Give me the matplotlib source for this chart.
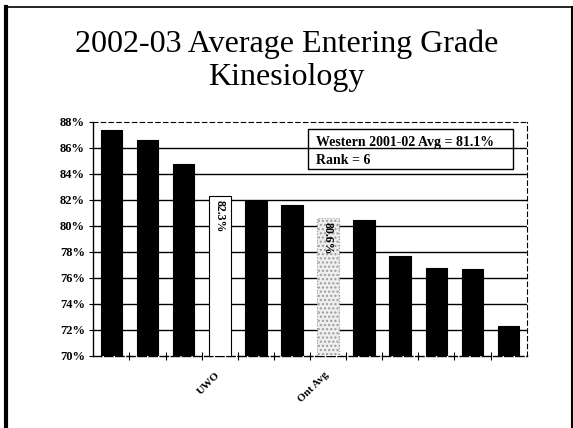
import numpy as np
import matplotlib.pyplot as plt
from matplotlib.patches import Rectangle

# data
labels = ['', '', '', 'UWO', '', '', 'Ont Avg', '', '', '', '', '']
grades = [87.4, 86.6, 84.8, 82.3, 81.9, 81.6, 80.6, 80.5, 77.7, 76.8, 76.7, 72.3]
yticks = [70, 72, 74, 76, 78, 80, 82, 84, 86, 88]
note_lines = ['Western 2001-02 Avg = 81.1%', 'Rank = 6']

plt.rcParams['font.family'] = 'Liberation Serif'

fig = plt.figure(figsize=(5.73, 4.28), dpi=100)
ax = fig.add_axes([93.3 / 573, 1 - 356 / 428, 433.4 / 573, 234 / 428])

x = np.arange(len(grades))
face = ['black'] * len(grades)
edge = ['black'] * len(grades)
face[3] = 'white'
face[6] = '#eeeeee'
edge[6] = '#9a9a9a'
bars = ax.bar(x, np.array(grades) - 70, bottom=70, width=0.6,
              color=face, edgecolor=edge, linewidth=0.8, zorder=3)
bars[6].set_hatch('....')
bars[6].set_linestyle(':')

for i in (3, 6):
    ax.text(x[i], grades[i] - 0.3, f'{grades[i]:.1f}%', rotation=270,
            ha='center', va='top', fontsize=8.5, fontweight='bold', zorder=4)

ax.set_xlim(-0.5, len(grades) - 0.5)
ax.set_ylim(70, 88)
ax.set_yticks(yticks)
ax.set_yticklabels([f'{v}%' for v in yticks], fontsize=9, fontweight='bold')
for v in yticks[1:-1]:
    ax.axhline(v, color='black', lw=1, zorder=1)

ax.set_xticks(x[:-1] + 0.5)
ax.set_xticklabels([])
ax.tick_params(axis='x', direction='inout', length=6, width=0.8)
ax.tick_params(axis='y', length=3, width=0.8, pad=3)

for i, lab in enumerate(labels):
    if lab:
        ax.text(x[i] - 0.12, 68.9, lab, rotation=45, ha='right', va='top',
                rotation_mode='anchor', fontsize=8, fontweight='bold')

for s in ('top', 'right'):
    ax.spines[s].set_linestyle((0, (4, 3)))
    ax.spines[s].set_linewidth(0.8)
ax.spines['left'].set_linewidth(1)
ax.spines['bottom'].set_linewidth(1)
ax.spines['bottom'].set_linestyle((0, (6, 2)))

ax.add_patch(Rectangle((0.4947, 0.799), 0.4737, 0.171, transform=ax.transAxes,
                       fill=False, ec='black', lw=1, zorder=5))
ax.text(0.514, 0.9145, note_lines[0], transform=ax.transAxes, va='center',
        fontsize=10, fontweight='bold', zorder=6)
ax.text(0.514, 0.8376, note_lines[1], transform=ax.transAxes, va='center',
        fontsize=10, fontweight='bold', zorder=6)

fig.text(0.5, 1 - 44 / 428, '2002-03 Average Entering Grade', ha='center',
         va='center', fontsize=23)
fig.text(0.5, 1 - 78 / 428, 'Kinesiology', ha='center', va='center', fontsize=23)

# slide frame
fig.add_artist(plt.Line2D([6 / 573, 6 / 573], [0, 1 - 7 / 428], color='black', lw=3,
                          transform=fig.transFigure))
fig.add_artist(plt.Line2D([5 / 573, 572 / 573], [1 - 7 / 428, 1 - 7 / 428], color='black',
                          lw=1.2, transform=fig.transFigure))
fig.add_artist(plt.Line2D([571.5 / 573, 571.5 / 573], [0, 1 - 7 / 428], color='black',
                          lw=1.5, transform=fig.transFigure))

fig.savefig('out.png', dpi=100)
